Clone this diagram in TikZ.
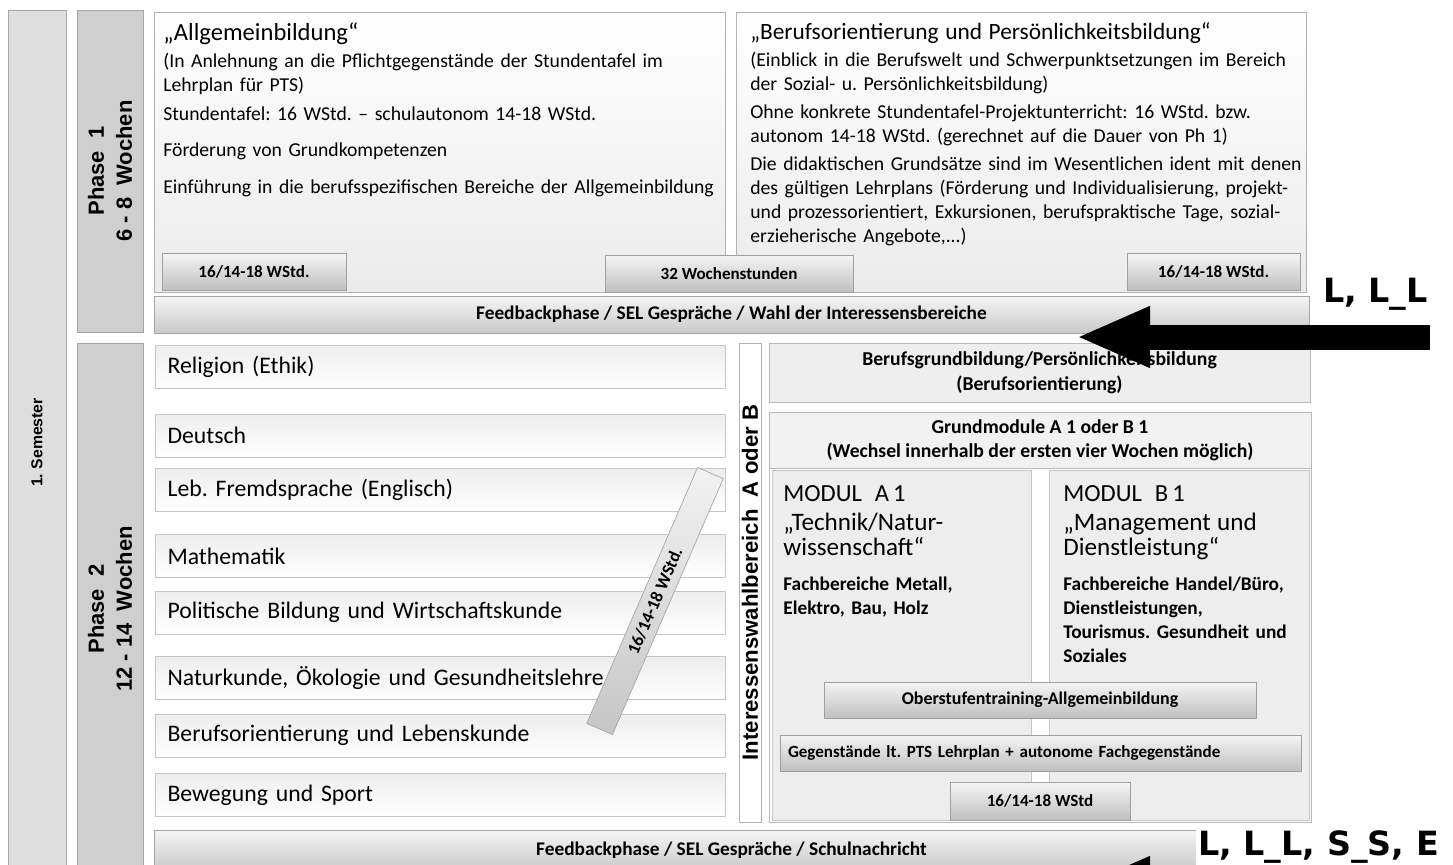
\documentclass[tikz,border=0pt]{standalone}
\usepackage{fontspec}
\setmainfont{Carlito}
\newfontfamily\phasefont{Liberation Sans}
\newfontfamily\tagfont{DejaVu Sans}
\usetikzlibrary{arrows.meta}
\newcommand\fsz[2]{\fontsize{#1}{#2}\selectfont}
\frenchspacing

\begin{document}
\begin{tikzpicture}[x=0.02cm,y=-0.02cm,>={Triangle[length=1.48cm,width=1.12cm]},
  topbox/.style={rectangle, draw=gray!60, top color=white, bottom color=gray!16, minimum width=11.42cm, minimum height=5.6cm},
  blocktxt/.style={anchor=north west, inner sep=0pt, text width=11.3cm, align=left, font={\fsz{11.2}{13.6}\lineskiplimit=-100pt}},
  smallbox/.style={rectangle, draw=gray!75, top color=gray!8, bottom color=gray!50, minimum height=0.74cm, inner sep=0pt, font=\fsz{9.7}{11}\bfseries},
  fbbar/.style={rectangle, draw=gray!70, top color=gray!8, bottom color=gray!42, minimum width=23.1cm, minimum height=0.74cm, font=\fsz{11}{13}\bfseries},
  sidebox/.style={rectangle, rotate=90, draw=gray!70, fill=gray!38, align=center, inner sep=0pt, font=\phasefont\bfseries\fsz{12.5}{16}},
  rowbox/.style={rectangle, draw=gray!45, top color=gray!14, bottom color=white, minimum width=11.4cm, minimum height=0.86cm, text width=10.9cm, align=left, inner xsep=0.25cm, font=\fsz{13.5}{15}},
  graybox/.style={rectangle, draw=gray!55, fill=gray!13, align=center, inner sep=0pt, font=\fsz{11.2}{14}\bfseries},
  modtxt/.style={anchor=north west, inner sep=0pt, text width=5cm, align=left, font={\fsz{11}{13.6}\lineskiplimit=-100pt}},
  tag/.style={anchor=base west, inner sep=1pt, font=\tagfont\bfseries\fsz{19}{22}}]
\fill[white] (0,0) rectangle (1453,865);
\useasboundingbox (0,0) rectangle (1453,865);
\clip (0,0) rectangle (1453,865);

% Semester und Phasen
\draw (37,442.5) node[sidebox, fill=gray!26, minimum width=17.3cm, minimum height=1.16cm, font=\phasefont\bfseries\fsz{9}{11}] (sem) {1.\ Semester};
\draw (110,171) node[sidebox, minimum width=6.44cm, minimum height=1.32cm] (ph1) {Phase\ \ 1\\6 - 8\ \ Wochen};
\draw (110,609) node[sidebox, minimum width=10.64cm, minimum height=1.32cm] (ph2) {Phase\ \ 2\\12 - 14\ \ Wochen};

% Phase 1
\draw (440,152) node[topbox] (allg) {};
\draw (163,22) node[blocktxt] (allgtxt) {{\fsz{14}{13.6}„Allgemeinbildung“}\\[2pt]
(In Anlehnung an die Pflichtgegenstände der Stundentafel im\\
Lehrplan für PTS)\\[2.9pt]
Stundentafel: 16 WStd. – schulautonom 14-18 WStd.\\[6.9pt]
Förderung von Grundkompetenzen\\[7.4pt]
Einführung in die berufsspezifischen Bereiche der Allgemeinbildung};
\draw (1021,152) node[topbox, minimum width=11.4cm] (bo) {};
\draw (750,22) node[blocktxt] (botxt) {{\fsz{13.3}{13.6}„Berufsorientierung und Persönlichkeitsbildung“}\\[2pt]
(Einblick in die Berufswelt und Schwerpunktsetzungen im Bereich\\
der Sozial- u. Persönlichkeitsbildung)\\[2.6pt]
Ohne konkrete Stundentafel-Projektunterricht: 16 WStd. bzw.\\
autonom 14-18 WStd. (gerechnet auf die Dauer von Ph 1)\\[2.2pt]
Die didaktischen Grundsätze sind im Wesentlichen ident mit denen\\
des gültigen Lehrplans (Förderung und Individualisierung, projekt-\\
und prozessorientiert, Exkursionen, berufspraktische Tage, sozial-\\
erzieherische Angebote,...)};
\draw (254,271.5) node[smallbox, minimum width=3.68cm] (wsA) {16/14-18 WStd.};
\draw (729,273.5) node[smallbox, minimum width=4.96cm] (wochen) {32 Wochenstunden};
\draw (1213.5,271.5) node[smallbox, minimum width=3.46cm] (wsB) {16/14-18 WStd.};
\draw (731.5,314.5) node[fbbar] (fbA) {Feedbackphase / SEL Gespräche / Wahl der Interessensbereiche};

% Phase 2 links
\draw (440,366.5) node[rowbox] (rel) {Religion (Ethik)};
\draw (440,435.5) node[rowbox] (de) {Deutsch};
\draw (440,490) node[rowbox] (en) {Leb. Fremdsprache (Englisch)};
\draw (440,556) node[rowbox] (ma) {Mathematik};
\draw (440,612.5) node[rowbox] (pb) {Politische Bildung und Wirtschaftskunde};
\draw (440,678) node[rowbox] (nk) {Naturkunde, Ökologie und Gesundheitslehre};
\draw (440,735.5) node[rowbox] (bol) {Berufsorientierung und Lebenskunde};
\draw (440,795) node[rowbox] (sp) {Bewegung und Sport};
\draw (655,601) node[rectangle, rotate=66.6, draw=gray!70, top color=gray!10, bottom color=gray!45, minimum width=5.58cm, minimum height=0.56cm, inner sep=0pt, font=\fsz{10}{11}\bfseries] (diag) {16/14-18 WStd.};
\draw (750,582.5) node[sidebox, fill=white, draw=gray!60, minimum width=9.58cm, minimum height=0.44cm, font=\phasefont\bfseries\fsz{12.6}{15}] (iwb) {Interessenswahlbereich\ \ A oder B};

% Phase 2 rechts
\draw (1039.5,372.5) node[graybox, minimum width=10.82cm, minimum height=1.18cm] (bgb) {Berufsgrundbildung/Persönlichkeitsbildung\\(Berufsorientierung)};
\draw (1040,617) node[rectangle, draw=gray!55, fill=white, minimum width=10.84cm, minimum height=8.2cm] (grund) {};
\draw (1040,440) node[graybox, fill=gray!11, minimum width=10.84cm, minimum height=1.12cm, font=\fsz{11.2}{13.6}\bfseries] (grundkopf) {Grundmodule A 1 oder B 1\\(Wechsel innerhalb der ersten vier Wochen möglich)};
\draw (901.5,645) node[rectangle, draw=gray!45, fill=gray!14, minimum width=5.18cm, minimum height=7cm] (modA) {};
\draw (1179,645) node[rectangle, draw=gray!45, fill=gray!14, minimum width=5.2cm, minimum height=7cm] (modB) {};
\draw (783,485) node[modtxt] (modAtxt) {{\fsz{14}{13.6}MODUL\ \ A\,1}\\[2.8pt]
{\fsz{14.3}{13.6}„Technik/Natur-}\\[1.1pt]
{\fsz{14.3}{13.6}wissenschaft“}\\[6.2pt]
{\bfseries Fachbereiche Metall,}\\
{\bfseries Elektro, Bau, Holz}};
\draw (1063,485) node[modtxt] (modBtxt) {{\fsz{14}{13.6}MODUL\ \ B\,1}\\[2.8pt]
{\fsz{14.3}{13.6}„Management und}\\[1.1pt]
{\fsz{14.3}{13.6}Dienstleistung“}\\[6.2pt]
{\bfseries Fachbereiche Handel/Büro,}\\
{\bfseries Dienstleistungen,}\\
{\bfseries Tourismus. Gesundheit und}\\
{\bfseries Soziales}};
\draw (1040,700) node[smallbox, minimum width=8.64cm, minimum height=0.72cm, font=\fsz{10.2}{12}\bfseries] (ober) {Oberstufentraining-Allgemeinbildung};
\draw (1040.5,753) node[smallbox, minimum width=10.42cm, minimum height=0.72cm, text width=10.1cm, align=left] (gegen) {Gegenstände lt. PTS Lehrplan + autonome Fachgegenstände};
\draw (1040,801) node[smallbox, minimum width=3.6cm, minimum height=0.76cm] (wsC) {16/14-18 WStd};

\draw (731.5,850) node[fbbar, minimum height=0.8cm] (fbB) {Feedbackphase / SEL Gespräche / Schulnachricht};

% Pfeile
\coordinate (tailA) at (1430,337);
\coordinate (tipA) at (1076,337);
\draw[->, line width=0.5cm] (tailA) -- (tipA);
\coordinate (tailB) at (1430,887);
\coordinate (tipB) at (1076,887);
\draw[->, line width=0.5cm] (tailB) -- (tipB);
\draw (1321,302) node[tag] (tagA) {L, L\_L};
\draw (1196,855) node[tag, fill=white] (tagB) {L, L\_L, S\_S, E};
\end{tikzpicture}
\end{document}
